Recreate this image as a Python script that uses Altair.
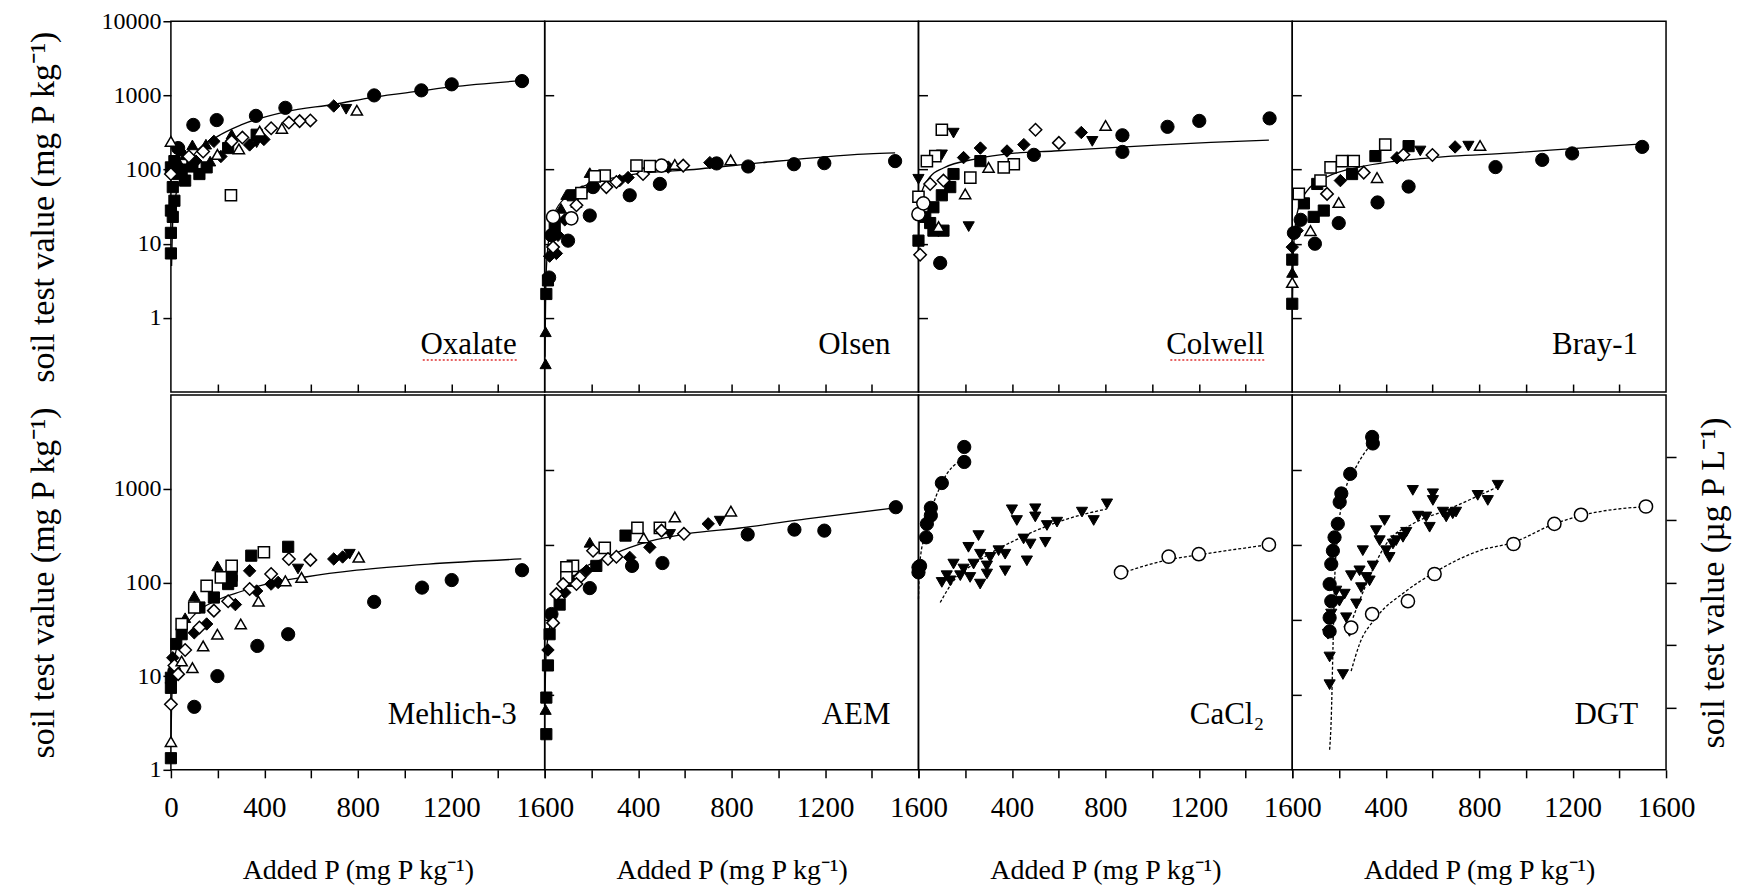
import altair as alt
import pandas as pd

FONT = "Liberation Serif"

# ---------------- data (x = added P, y = soil test value, symbol code) ----------------
# symbol codes: f=filled o=open; c=circle s=square t=triangle-up v=triangle-down d=diamond
OXALATE_PTS = [
    (1503, 1560, "fc"), (1202, 1410, "fc"), (1072, 1170, "fc"), (870, 1000, "fc"), (490, 680, "fc"),
    (364, 530, "fc"), (196, 465, "fc"), (96, 400, "fc"), (31, 195, "fc"),
    (750, 650, "fv"), (367, 230, "fv"),
    (697, 720, "fd"), (184, 240, "fd"), (214, 150, "fd"), (337, 215, "fd"), (398, 255, "fd"), (107, 130, "fd"),
    (367, 295, "fs"), (245, 195, "fs"), (15, 130, "fs"), (0, 107, "fs"), (31, 87, "fs"), (61, 71, "fs"),
    (122, 87, "fs"), (153, 107, "fs"), (8, 58, "fs"), (15, 38, "fs"), (0, 28, "fs"), (8, 23, "fs"),
    (0, 14, "fs"), (0, 7.4, "fs"), (46, 100, "fs"), (92, 110, "fs"),
    (92, 215, "ft"), (61, 158, "ft"), (168, 130, "ft"), (31, 130, "ft"), (46, 180, "ft"), (150, 220, "ft"),
    (260, 300, "ft"),
    (796, 630, "ot"), (475, 360, "ot"), (291, 190, "ot"), (199, 160, "ot"), (0, 240, "ot"), (380, 330, "ot"),
    (597, 460, "od"), (551, 450, "od"), (505, 430, "od"), (429, 360, "od"), (138, 175, "od"), (0, 87, "od"),
    (306, 270, "od"), (260, 240, "od"), (77, 150, "od"),
    (257, 45, "os"),
]
OXALATE_FIT_X = [3, 8, 30, 100, 200, 300, 490, 700, 870, 1070, 1200, 1500]
OXALATE_FIT_Y = [5, 20, 60, 160, 280, 400, 600, 760, 950, 1150, 1300, 1580]

OLSEN_PTS = [
    (1500, 130, "fc"), (1197, 122, "fc"), (1067, 118, "fc"), (871, 110, "fc"), (736, 121, "fc"), (493, 64, "fc"),
    (364, 45, "fc"), (193, 24, "fc"), (100, 11, "fc"), (19, 3.5, "fc"), (29, 13, "fc"), (207, 58, "fc"),
    (707, 124, "fd"), (529, 108, "fd"), (357, 78, "fd"), (321, 71, "fd"), (21, 6.8, "fd"), (50, 7.4, "fd"),
    (57, 13, "fd"), (86, 21, "fd"), (160, 50, "fd"),
    (193, 91, "ft"), (136, 36, "ft"), (93, 46, "ft"), (4, 0.24, "ft"), (4, 0.65, "ft"), (70, 30, "ft"),
    (7, 2.1, "fs"), (14, 3.2, "fs"), (43, 17, "fs"), (120, 45, "fs"),
    (796, 135, "ot"), (557, 117, "ot"),
    (593, 113, "od"), (421, 87, "od"), (307, 68, "od"), (264, 58, "od"), (136, 33, "od"), (36, 9, "od"),
    (500, 113, "oc"), (36, 23, "oc"), (114, 22, "oc"),
    (393, 113, "os"), (257, 83, "os"), (214, 81, "os"), (157, 48, "os"), (450, 111, "os"),
]
OLSEN_FIT_X = [1, 5, 15, 40, 100, 200, 300, 400, 600, 930, 1136, 1386, 1500]
OLSEN_FIT_Y = [0.3, 3, 10, 25, 45, 65, 78, 88, 98, 124, 143, 163, 168]

COLWELL_PTS = [
    (1503, 490, "fc"), (1202, 453, "fc"), (1066, 377, "fc"), (873, 290, "fc"), (873, 173, "fc"),
    (494, 158, "fc"), (93, 5.5, "fc"),
    (744, 240, "fv"), (215, 17, "fv"), (150, 310, "fv"), (100, 158, "fv"), (0, 74, "fv"),
    (697, 316, "fd"), (451, 217, "fd"), (379, 178, "fd"), (265, 195, "fd"), (193, 145, "fd"),
    (265, 130, "fs"), (150, 87, "fs"), (136, 58, "fs"), (100, 45, "fs"), (64, 31, "fs"), (64, 15, "fs"),
    (50, 19, "fs"), (0, 11, "fs"), (29, 23, "fs"), (107, 15, "fs"),
    (801, 393, "ot"), (300, 107, "ot"), (200, 47, "ot"), (86, 17, "ot"),
    (601, 229, "od"), (501, 344, "od"), (107, 71, "od"), (50, 64, "od"), (7, 7.1, "od"),
    (408, 118, "os"), (365, 107, "os"), (222, 78, "os"), (100, 344, "os"), (72, 152, "os"), (36, 130, "os"),
    (0, 43, "os"),
    (0, 25, "oc"), (21, 35, "oc"),
]
COLWELL_FIT_X = [0.5, 3, 10, 50, 107, 250, 400, 580, 794, 1037, 1252, 1500]
COLWELL_FIT_Y = [8, 20, 45, 80, 105, 140, 165, 178, 195, 215, 232, 250]

BRAY_PTS = [
    (1498, 202, "fc"), (1198, 165, "fc"), (1070, 135, "fc"), (870, 108, "fc"), (498, 59, "fc"), (365, 36, "fc"),
    (199, 19, "fc"), (97, 10, "fc"), (36, 21, "fc"), (7, 14, "fc"),
    (697, 202, "fd"), (448, 144, "fd"), (206, 71, "fd"), (0, 9, "fd"), (21, 15, "fd"),
    (754, 207, "fv"), (548, 178, "fv"),
    (498, 207, "fs"), (356, 152, "fs"), (135, 28, "fs"), (0, 1.55, "fs"), (256, 87, "fs"), (107, 64, "fs"),
    (92, 23, "fs"), (50, 35, "fs"), (0, 6.1, "fs"),
    (0, 4.1, "ft"),
    (804, 211, "ot"), (363, 78, "ot"), (199, 36, "ot"), (78, 15, "ot"), (0, 3.0, "ot"),
    (600, 157, "od"), (476, 158, "od"), (306, 91, "od"), (149, 47, "od"),
    (398, 217, "os"), (263, 130, "os"), (213, 130, "os"), (164, 107, "os"), (121, 71, "os"), (28, 47, "os"),
]
BRAY_FIT_X = [1, 5, 20, 60, 150, 300, 590, 946, 1230, 1500]
BRAY_FIT_Y = [1.5, 8, 25, 50, 80, 110, 144, 168, 195, 222]

MEHLICH_PTS = [
    (1503, 135, "fc"), (1202, 106, "fc"), (1075, 88, "fc"), (870, 62, "fc"), (502, 28, "fc"), (370, 21, "fc"),
    (199, 10, "fc"), (100, 4.7, "fc"), (15, 11.3, "fc"),
    (502, 240, "fs"), (344, 193, "fs"), (0, 1.33, "fs"), (260, 118, "fs"), (260, 104, "fs"), (0, 9.6, "fs"),
    (0, 7.5, "fs"), (23, 22, "fs"), (46, 28, "fs"), (122, 54, "fs"), (184, 69, "fs"), (245, 96, "fs"),
    (199, 150, "ft"), (100, 72, "ft"), (61, 42, "ft"),
    (697, 178, "fd"), (735, 187, "fd"), (459, 100, "fd"), (429, 96, "fd"), (367, 81, "fd"), (276, 58, "fd"),
    (153, 36, "fd"), (100, 29, "fd"), (8, 15.7, "fd"), (337, 133, "fd"),
    (544, 139, "fv"), (765, 200, "fv"),
    (398, 210, "os"), (260, 150, "os"), (214, 113, "os"), (153, 92, "os"), (100, 54, "os"), (46, 36, "os"),
    (597, 174, "od"), (505, 178, "od"), (429, 123, "od"), (337, 85, "od"), (245, 63, "od"), (184, 50, "od"),
    (122, 33, "od"), (61, 19, "od"), (15, 13, "od"), (0, 5.0, "od"), (31, 10.5, "od"),
    (804, 186, "ot"), (559, 113, "ot"), (490, 104, "ot"), (375, 63, "ot"), (299, 36, "ot"), (199, 28, "ot"),
    (138, 21, "ot"), (92, 12.3, "ot"), (46, 14.5, "ot"), (0, 2.0, "ot"),
]
MEHLICH_FIT_X = [0.5, 3, 15, 50, 100, 200, 300, 400, 582, 796, 1102, 1500]
MEHLICH_FIT_Y = [2, 5, 15, 30, 45, 65, 80, 95, 115, 135, 157, 178]

AEM_PTS = [
    (1503, 635, "fc"), (1197, 357, "fc"), (1069, 366, "fc"), (869, 325, "fc"), (504, 161, "fc"), (374, 150, "fc"),
    (193, 87, "fc"), (29, 46, "fc"),
    (346, 316, "fs"), (221, 150, "fs"), (121, 104, "fs"), (64, 58, "fs"), (21, 28, "fs"), (14, 13, "fs"),
    (7, 5.9, "fs"), (7, 2.4, "fs"),
    (700, 422, "fd"), (450, 237, "fd"), (364, 185, "fd"), (179, 133, "fd"), (86, 78, "fd"), (14, 19, "fd"),
    (750, 451, "fv"), (536, 325, "fv"),
    (193, 268, "ft"), (4, 4.4, "ft"),
    (797, 577, "ot"), (557, 500, "ot"), (424, 299, "ot"),
    (397, 382, "os"), (493, 382, "os"), (257, 234, "os"), (121, 150, "os"), (93, 145, "os"), (93, 113, "os"),
    (596, 330, "od"), (500, 357, "od"), (271, 178, "od"), (307, 188, "od"), (207, 218, "od"), (150, 113, "od"),
    (79, 96, "od"), (50, 75, "od"), (36, 37, "od"), (136, 96, "od"),
]
AEM_FIT_X = [1, 5, 14, 50, 121, 264, 407, 607, 836, 1121, 1500]
AEM_FIT_Y = [5, 15, 26, 58, 113, 185, 257, 330, 381, 476, 626]

CACL2_PTS = [
    (196, 2790, "fc"), (196, 1930, "fc"), (100, 1150, "fc"), (53, 626, "fc"), (53, 518, "fc"), (36, 422, "fc"),
    (33, 303, "fc"), (7, 150, "fc"), (0, 128, "fc"), (0, 145, "fc"),
    (807, 690, "fv"), (700, 563, "fv"), (750, 458, "fv"), (593, 440, "fv"), (550, 405, "fv"), (500, 611, "fv"),
    (500, 500, "fv"), (400, 596, "fv"), (421, 458, "fv"), (543, 268, "fv"), (450, 291, "fv"), (479, 257, "fv"),
    (464, 170, "fv"), (371, 200, "fv"), (371, 133, "fv"), (343, 218, "fv"), (257, 316, "fv"), (214, 237, "fv"),
    (264, 200, "fv"), (307, 185, "fv"), (293, 123, "fv"), (264, 96, "fv"), (221, 113, "fv"), (179, 118, "fv"),
    (150, 157, "fv"), (136, 104, "fv"), (100, 100, "fv"), (121, 118, "fv"), (193, 139, "fv"), (236, 157, "fv"),
    (293, 150, "fv"),
    (867, 128, "oc"), (1071, 188, "oc"), (1200, 200, "oc"), (1500, 253, "oc"),
]
CACL2_FIT_A_X = [0, 3, 10, 30, 53, 100, 196]
CACL2_FIT_A_Y = [66, 120, 200, 320, 560, 1150, 2100]
CACL2_FIT_B_X = [93, 150, 250, 436, 607, 807]
CACL2_FIT_B_Y = [61, 104, 165, 300, 450, 610]
CACL2_FIT_C_X = [867, 1071, 1200, 1500]
CACL2_FIT_C_Y = [125, 175, 197, 253]

DGT_PTS = [
    (342, 3570, "fc"), (345, 3040, "fc"), (248, 1440, "fc"), (210, 890, "fc"), (203, 720, "fc"), (195, 422, "fc"),
    (181, 303, "fc"), (174, 218, "fc"), (167, 157, "fc"), (160, 96, "fc"), (167, 63, "fc"), (160, 42, "fc"),
    (160, 30, "fc"),
    (880, 1090, "fv"), (837, 750, "fv"), (794, 850, "fv"), (701, 563, "fv"), (645, 563, "fv"), (602, 884, "fv"),
    (602, 750, "fv"), (516, 960, "fv"), (573, 500, "fv"), (588, 388, "fv"), (538, 510, "fv"), (488, 343, "fv"),
    (474, 303, "fv"), (395, 458, "fv"), (359, 357, "fv"), (374, 279, "fv"), (402, 218, "fv"), (431, 257, "fv"),
    (302, 218, "fv"), (345, 150, "fv"), (317, 113, "fv"), (288, 133, "fv"), (252, 118, "fv"), (224, 75, "fv"),
    (274, 59, "fv"), (231, 42, "fv"), (245, 30, "fv"), (167, 46, "fv"), (153, 28, "fv"), (160, 16, "fv"),
    (160, 8.1, "fv"), (217, 10.4, "fv"), (202, 63, "fv"), (188, 81, "fv"), (295, 88, "fv"), (331, 104, "fv"),
    (416, 185, "fv"), (445, 279, "fv"), (659, 500, "fv"), (687, 540, "fv"),
    (1514, 646, "oc"), (1236, 527, "oc"), (1122, 422, "oc"), (947, 257, "oc"), (609, 123, "oc"), (495, 63, "oc"),
    (342, 46, "oc"), (252, 33, "oc"),
]
DGT_FIT_A_X = [160, 167, 174, 181, 195, 224, 274, 345]
DGT_FIT_A_Y = [1.64, 3.6, 18.6, 96, 330, 890, 1720, 3150]
DGT_FIT_B_X = [260, 317, 402, 516, 659, 801, 880]
DGT_FIT_B_Y = [42, 96, 257, 422, 590, 850, 1050]
DGT_FIT_C_X = [252, 288, 359, 488, 609, 801, 947, 1122, 1236, 1514]
DGT_FIT_C_Y = [11.3, 22, 42, 81, 128, 218, 268, 422, 517, 646]

PANEL_NAMES_TOP = ["Oxalate", "Olsen", "Colwell", "Bray-1"]
PANEL_NAMES_BOTTOM = ["Mehlich-3", "AEM", "CaCl\u2082", "DGT"]

Y_TITLE_MG = "soil test value (mg P kg\u207b\u00b9)"
Y_TITLE_UG = "soil test value (\u00b5g P L\u207b\u00b9)"
X_TITLE = "Added P (mg P kg\u207b\u00b9)"

# ---------------- styling ----------------
W = 374
H_TOP = 371
H_BOT = 375
TOP_DOMAIN = [0.1, 10000]
BOT_DOMAIN = [1, 10000]

SYM = {
    "fc": ("circle", True), "oc": ("circle", False),
    "fs": ("square", True), "os": ("square", False),
    "ft": ("triangle-up", True), "ot": ("triangle-up", False),
    "fv": ("triangle-down", True),
    "fd": ("diamond", True), "od": ("diamond", False),
}
SIZE = {"circle": 175, "square": 125, "triangle-up": 125, "triangle-down": 125, "diamond": 155}


def pts_df(pts):
    rows = []
    for x, y, s in pts:
        shp, filled = SYM[s]
        rows.append({"x": x, "y": y, "shape": shp, "filled": filled, "size": SIZE[shp]})
    return pd.DataFrame(rows)


def tick_axis(orient, values, **kw):
    base = dict(orient=orient, values=values, labels=False, title=None, ticks=True, tickSize=9,
                tickWidth=1.5, tickColor="black", domain=False, grid=False)
    base.update(kw)
    return alt.Axis(**base)


def left_axis(values):
    return alt.Axis(orient="left", values=values, format="d", title=Y_TITLE_MG, tickSize=8, tickWidth=1.5,
                    tickColor="black", domain=False, grid=False, labelFont=FONT, labelFontSize=24,
                    labelColor="black", labelPadding=2, titleFont=FONT, titleFontSize=34,
                    titleFontWeight="normal", titleColor="black", titlePadding=30, minExtent=80,
                    maxExtent=80, labelOverlap=False)


def bottom_axis(first):
    expr = "datum.value % 400 == 0 ? datum.label : ''" if first else \
        "(datum.value % 400 == 0 && datum.value > 0) ? datum.label : ''"
    return alt.Axis(orient="bottom", values=list(range(0, 1601, 200)), format="d", labelExpr=expr,
                    title=X_TITLE, tickSize=8, tickWidth=1.5, tickColor="black", domain=False, grid=False,
                    labelFont=FONT, labelFontSize=29, labelColor="black", labelPadding=16, labelFlush=False,
                    labelOverlap=False, titleFont=FONT, titleFontSize=28, titleFontWeight="normal",
                    titleColor="black", titlePadding=34)


def panel(pts, fits, label, row, left=None, right=None, bottom=None, top=None, dashed=False,
          squiggle=False):
    ydom = TOP_DOMAIN if row == 0 else BOT_DOMAIN
    h = H_TOP if row == 0 else H_BOT
    label_y = 324 if row == 0 else 320
    xs = alt.Scale(domain=[0, 1600], nice=False, zero=False)
    ys = alt.Scale(type="log", domain=ydom, nice=False)
    layers = []
    for fx, fy in fits:
        dfl = pd.DataFrame({"x": fx, "y": fy})
        kw = dict(color="black", strokeWidth=1.3, interpolate="monotone")
        if dashed:
            kw["strokeDash"] = [3, 2]
        layers.append(alt.Chart(dfl).mark_line(**kw).encode(
            x=alt.X("x:Q", scale=xs, axis=None), y=alt.Y("y:Q", scale=ys, axis=None)))
    df = pts_df(pts)
    enc = dict(
        x=alt.X("x:Q", scale=xs, axis=None),
        y=alt.Y("y:Q", scale=ys, axis=None),
        shape=alt.Shape("shape:N", scale=None, legend=None),
        size=alt.Size("size:Q", scale=None, legend=None),
    )
    layers.append(alt.Chart(df[df["filled"]]).mark_point(
        filled=True, fill="black", stroke="black", strokeWidth=1, opacity=1).encode(**enc))
    layers.append(alt.Chart(df[~df["filled"]]).mark_point(
        filled=True, fill="white", stroke="black", strokeWidth=1.5, opacity=1).encode(**enc))
    # axis carrier layers
    layers.append(alt.Chart(df).mark_point(opacity=0).encode(
        x=alt.X("x:Q", scale=xs, axis=bottom), y=alt.Y("y:Q", scale=ys, axis=left)))
    layers.append(alt.Chart(df).mark_point(opacity=0).encode(
        x=alt.X("x:Q", scale=xs, axis=top), y=alt.Y("y:Q", scale=ys, axis=right)))
    # panel label
    tdf = pd.DataFrame({"t": [label]})
    layers.append(alt.Chart(tdf).mark_text(
        align="right", baseline="middle", font=FONT, fontSize=31, color="black").encode(
        x=alt.value(346), y=alt.value(label_y), text="t:N"))
    if squiggle:
        # spell-check underline visible under the label in the original image
        layers.append(alt.Chart(tdf).mark_rule(color="#e03030", strokeWidth=1.6, strokeDash=[2, 2]).encode(
            x=alt.value(252), x2=alt.value(346), y=alt.value(label_y + 15)))
    return alt.layer(*layers).resolve_axis(x="independent", y="independent").properties(width=W, height=h)


TOP_RIGHT_TICKS = [1, 10, 100, 1000]
BOT_RIGHT_TICKS = [10 ** (0.8 * k) for k in range(1, 5)]
DGT_RIGHT_TICKS = [10 ** (2 * k / 3) for k in range(1, 6)]
ROW_X_TICKS = list(range(200, 1401, 200))


def inner_bottom_ticks():
    # ticks at the boundary between the rows, pointing up into the upper panels
    return tick_axis("bottom", ROW_X_TICKS, tickSize=8, offset=-8)


p_ox = panel(OXALATE_PTS, [(OXALATE_FIT_X, OXALATE_FIT_Y)], PANEL_NAMES_TOP[0], 0,
             left=left_axis([1, 10, 100, 1000, 10000]), right=tick_axis("right", TOP_RIGHT_TICKS),
             bottom=inner_bottom_ticks(), squiggle=True)
p_ol = panel(OLSEN_PTS, [(OLSEN_FIT_X, OLSEN_FIT_Y)], PANEL_NAMES_TOP[1], 0,
             right=tick_axis("right", TOP_RIGHT_TICKS), bottom=inner_bottom_ticks())
p_co = panel(COLWELL_PTS, [(COLWELL_FIT_X, COLWELL_FIT_Y)], PANEL_NAMES_TOP[2], 0,
             right=tick_axis("right", TOP_RIGHT_TICKS), bottom=inner_bottom_ticks(), squiggle=True)
p_br = panel(BRAY_PTS, [(BRAY_FIT_X, BRAY_FIT_Y)], PANEL_NAMES_TOP[3], 0, bottom=inner_bottom_ticks())

p_me = panel(MEHLICH_PTS, [(MEHLICH_FIT_X, MEHLICH_FIT_Y)], PANEL_NAMES_BOTTOM[0], 1,
             left=left_axis([1, 10, 100, 1000]), right=tick_axis("right", BOT_RIGHT_TICKS),
             bottom=bottom_axis(True))
p_ae = panel(AEM_PTS, [(AEM_FIT_X, AEM_FIT_Y)], PANEL_NAMES_BOTTOM[1], 1, bottom=bottom_axis(False))
p_ca = panel(CACL2_PTS, [(CACL2_FIT_A_X, CACL2_FIT_A_Y), (CACL2_FIT_B_X, CACL2_FIT_B_Y),
                         (CACL2_FIT_C_X, CACL2_FIT_C_Y)], PANEL_NAMES_BOTTOM[2], 1,
             right=tick_axis("right", BOT_RIGHT_TICKS), bottom=bottom_axis(False), dashed=True)
p_dg = panel(DGT_PTS, [(DGT_FIT_A_X, DGT_FIT_A_Y), (DGT_FIT_B_X, DGT_FIT_B_Y),
                       (DGT_FIT_C_X, DGT_FIT_C_Y)], PANEL_NAMES_BOTTOM[3], 1,
             right=tick_axis("right", DGT_RIGHT_TICKS, tickSize=10, title=Y_TITLE_UG, titleFont=FONT,
                             titleFontSize=34, titleFontWeight="normal", titleColor="black", titleAngle=270,
                             titleBaseline="top", titlePadding=20),
             bottom=bottom_axis(False), dashed=True)

top_row = alt.hconcat(p_ox, p_ol, p_co, p_br, spacing=0, bounds="flush")
bot_row = alt.hconcat(p_me, p_ae, p_ca, p_dg, spacing=0, bounds="flush")

chart = alt.vconcat(top_row, bot_row, spacing=0).properties(
    padding={"left": 18, "top": 0, "right": 0, "bottom": 0},
    background="white",
).configure_view(stroke="black", strokeWidth=1.5)

chart.save("out.html", embed_options={"renderer": "svg", "actions": False})
